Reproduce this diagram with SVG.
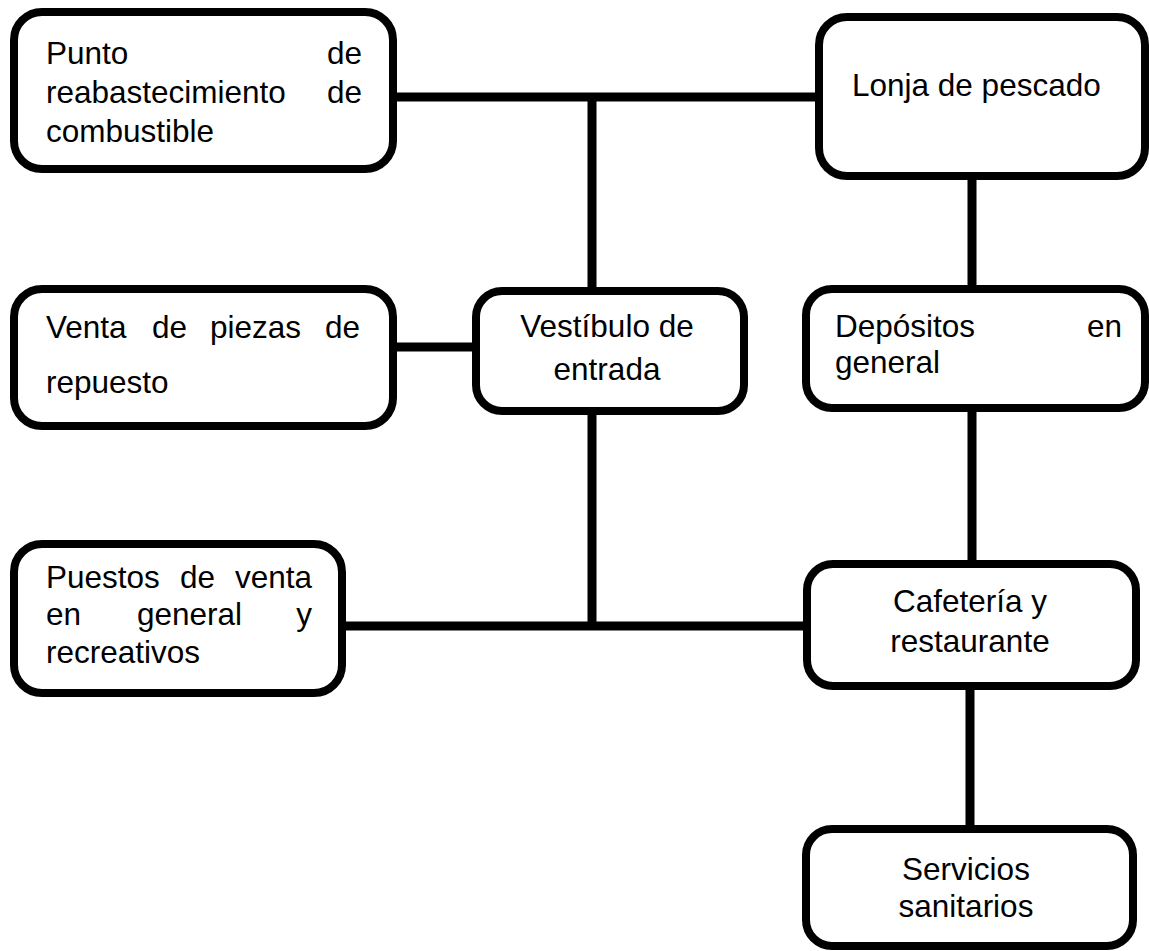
<svg xmlns="http://www.w3.org/2000/svg" width="1149" height="951" viewBox="0 0 1149 951">
<style>
.box{fill:#fff;stroke:#000;stroke-width:8}
.ln{stroke:#000;stroke-width:9;fill:none}
text{font-family:"Liberation Sans",Arial,sans-serif;font-size:31.5px;fill:#000}
.c{text-anchor:middle}
.r{text-anchor:end}
</style>
<rect width="1149" height="951" fill="#fff"/>
<g id="connectors">
<line class="ln" x1="393" y1="97" x2="819" y2="97"/>
<line class="ln" x1="592" y1="97" x2="592" y2="291"/>
<line class="ln" x1="393" y1="347" x2="476" y2="347"/>
<line class="ln" x1="592" y1="411" x2="592" y2="626"/>
<line class="ln" x1="342" y1="626" x2="810" y2="626"/>
<line class="ln" x1="972" y1="176" x2="972" y2="289"/>
<line class="ln" x1="972" y1="408" x2="972" y2="564"/>
<line class="ln" x1="970" y1="686" x2="970" y2="829"/>
</g>
<g id="punto">
<rect class="box" x="14" y="12" width="379" height="157" rx="28"/>
<text x="46" y="64">Punto</text><text class="r" x="362" y="64">de</text>
<text x="46" y="103">reabastecimiento</text><text class="r" x="362" y="103">de</text>
<text x="46" y="142">combustible</text>
</g>
<g id="lonja">
<rect class="box" x="819" y="17" width="326" height="159" rx="28"/>
<text x="852" y="96">Lonja de pescado</text>
</g>
<g id="venta">
<rect class="box" x="14" y="289" width="379" height="137" rx="28"/>
<text x="46" y="338">Venta</text><text x="152" y="338">de</text><text x="210" y="338">piezas</text><text class="r" x="360" y="338">de</text>
<text x="46" y="393">repuesto</text>
</g>
<g id="vestibulo">
<rect class="box" x="476" y="291" width="268" height="120" rx="26"/>
<text class="c" x="607" y="337">Vestíbulo de</text>
<text class="c" x="607" y="380">entrada</text>
</g>
<g id="depositos">
<rect class="box" x="806" y="289" width="339" height="119" rx="26"/>
<text x="835" y="337">Depósitos</text><text class="r" x="1122" y="337">en</text>
<text x="835" y="373">general</text>
</g>
<g id="puestos">
<rect class="box" x="14" y="544" width="328" height="149" rx="28"/>
<text x="46" y="588">Puestos</text><text x="180" y="588">de</text><text class="r" x="312" y="588">venta</text>
<text x="46" y="625">en</text><text x="137" y="625">general</text><text class="r" x="312" y="625">y</text>
<text x="46" y="663">recreativos</text>
</g>
<g id="cafeteria">
<rect class="box" x="807" y="564" width="329" height="122" rx="26"/>
<text class="c" x="970" y="612">Cafetería y</text>
<text class="c" x="970" y="652">restaurante</text>
</g>
<g id="servicios">
<rect class="box" x="806" y="829" width="327" height="117" rx="26"/>
<text class="c" x="966" y="880">Servicios</text>
<text class="c" x="966" y="917">sanitarios</text>
</g>
</svg>
